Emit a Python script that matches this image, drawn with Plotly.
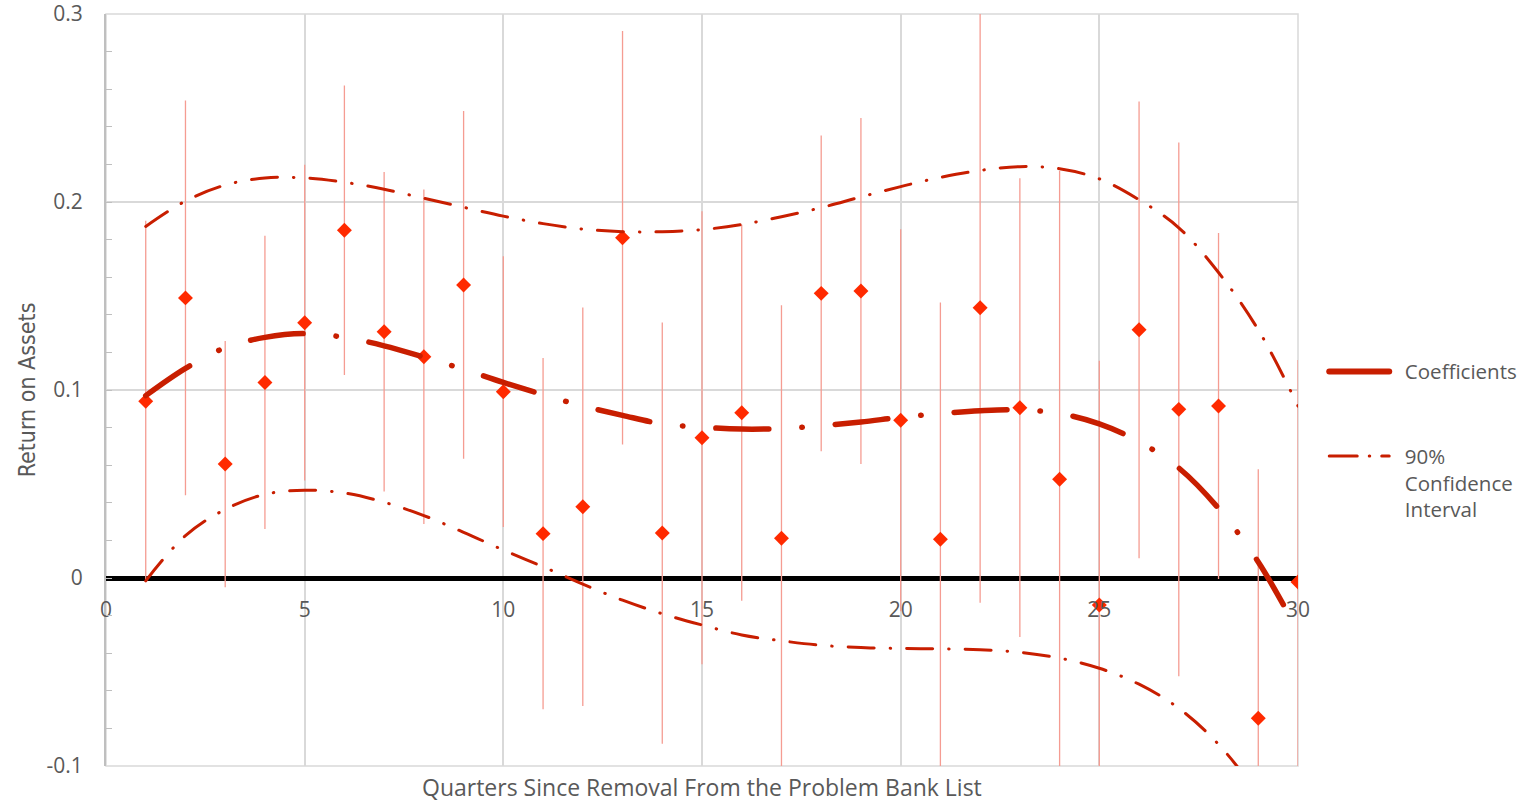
import plotly.graph_objects as go

# ---------------- data ----------------
quarters = list(range(1, 31))

# point estimates (diamonds)
roa_coef = [0.094, 0.149, 0.0606, 0.104, 0.1358, 0.185, 0.131, 0.1177, 0.1559, 0.0991,
            0.0236, 0.0379, 0.181, 0.0239, 0.0746, 0.0879, 0.0211, 0.1514, 0.1527, 0.0839,
            0.0206, 0.1438, 0.0906, 0.0525, -0.0144, 0.132, 0.0897, 0.0915, -0.0746, -0.0021]

# half-width of the 90% interval of each point (vertical bars)
roa_err = [0.096, 0.105, 0.0655, 0.078, 0.084, 0.077, 0.085, 0.089, 0.0925, 0.072,
           0.0934, 0.106, 0.110, 0.112, 0.1205, 0.100, 0.124, 0.084, 0.092, 0.1016,
           0.126, 0.157, 0.122, 0.164, 0.130, 0.1215, 0.142, 0.092, 0.1324, 0.118]

# polynomial trend of the coefficients
trend_coef = [0.097, 0.1115, 0.1225, 0.128, 0.130, 0.128, 0.1235, 0.1175, 0.111, 0.104,
              0.0975, 0.0915, 0.0865, 0.082, 0.0802, 0.0792, 0.0795, 0.081, 0.083, 0.0855,
              0.0875, 0.089, 0.0895, 0.0875, 0.082, 0.0725, 0.0585, 0.037, 0.0085, -0.0286]

# trend of the upper and lower 90% confidence bounds
trend_upper = [0.187, 0.2005, 0.209, 0.2128, 0.2128, 0.2105, 0.2068, 0.202, 0.1972, 0.1925,
               0.1885, 0.1856, 0.1842, 0.1842, 0.1853, 0.188, 0.1922, 0.197, 0.2027, 0.2082,
               0.2131, 0.2168, 0.2188, 0.2177, 0.2123, 0.2012, 0.1863, 0.1625, 0.132, 0.0915]
trend_lower = [-0.0015, 0.0225, 0.0365, 0.0445, 0.0467, 0.0452, 0.0403, 0.0332, 0.0243, 0.0149,
               0.006, -0.0033, -0.0118, -0.019, -0.025, -0.0303, -0.0334, -0.0358, -0.037, -0.0375,
               -0.0377, -0.0382, -0.0395, -0.0426, -0.048, -0.0565, -0.0693, -0.0885, -0.116, -0.155]

y_tick_vals = [-0.1, 0, 0.1, 0.2, 0.3]
y_tick_text = ["-0.1", "0", "0.1", "0.2", "0.3"]
x_tick_vals = [0, 5, 10, 15, 20, 25, 30]

# ---------------- styles ----------------
TREND_RED = "#C81E00"
POINT_RED = "#FF2A00"
BAR_RED = "#F59C92"
GRID = "#D9D9D9"
TEXT = "#595959"
FONT = "Open Sans, sans-serif"
PAD = "\u00a0\u00a0"

fig = go.Figure()

# points with their interval bars
fig.add_trace(go.Scatter(
    x=quarters, y=roa_coef, mode="markers",
    marker=dict(symbol="diamond", size=11.5, color=POINT_RED),
    error_y=dict(type="data", array=roa_err, visible=True,
                 color=BAR_RED, thickness=1.3, width=0),
    showlegend=False,
))

# trend lines
fig.add_trace(go.Scatter(
    x=quarters, y=trend_upper, mode="lines",
    line=dict(color=TREND_RED, width=3, dash="26px,16px,0.5px,16px", shape="spline", smoothing=1),
    showlegend=False,
))
fig.add_trace(go.Scatter(
    x=quarters, y=trend_lower, mode="lines",
    line=dict(color=TREND_RED, width=3, dash="26px,16px,0.5px,16px", shape="spline", smoothing=1),
    showlegend=False,
))
fig.add_trace(go.Scatter(
    x=quarters, y=trend_coef, mode="lines",
    line=dict(color=TREND_RED, width=5.5, dash="53px,33px,0.5px,33px", shape="spline", smoothing=1),
    showlegend=False,
))

# legend entries
fig.add_trace(go.Scatter(
    x=[None], y=[None], mode="lines", name=PAD + "Coefficients", legendgroup="a",
    line=dict(color=TREND_RED, width=6),
))
fig.add_trace(go.Scatter(
    x=[None], y=[None], mode="lines",
    name=PAD + "90%<br>" + PAD + "Confidence<br>" + PAD + "Interval", legendgroup="b",
    line=dict(color=TREND_RED, width=3, dash="28px,12px,0.5px,12px"),
))

fig.update_layout(
    width=1528, height=802,
    margin=dict(l=106, r=230, t=14, b=36, autoexpand=False),
    paper_bgcolor="white", plot_bgcolor="white",
    font=dict(family=FONT, color=TEXT, size=20),
    legend=dict(
        x=1.022, y=0.551, xanchor="left", yanchor="top",
        font=dict(family=FONT, size=20.5, color=TEXT),
        itemwidth=60, valign="top", tracegroupgap=55,
        traceorder="grouped", bgcolor="rgba(0,0,0,0)",
    ),
    xaxis=dict(
        range=[0, 30], tickvals=x_tick_vals, showgrid=True, gridcolor=GRID, gridwidth=1.5,
        zeroline=False, showline=False, ticks="", automargin=False,
        anchor="free", position=0.25, ticklabelstandoff=17, ticklabeloverflow="allow",
        tickfont=dict(family=FONT, size=21, color=TEXT),
    ),
    yaxis=dict(
        range=[-0.1, 0.3], tickvals=y_tick_vals, ticktext=y_tick_text,
        showgrid=True, gridcolor=GRID, gridwidth=1.5, automargin=False,
        zeroline=True, zerolinecolor="black", zerolinewidth=5,
        showline=True, linecolor="#BFBFBF", linewidth=2,
        ticks="inside", ticklen=6, tickcolor="#BFBFBF",
        minor=dict(dtick=0.02, ticks="inside", ticklen=6, tickcolor="#BFBFBF", showgrid=False),
        ticklabelstandoff=17, ticklabeloverflow="allow",
        tickfont=dict(family=FONT, size=21, color=TEXT),
    ),
    shapes=[
        dict(type="rect", xref="paper", yref="paper", x0=0, x1=1, y0=0, y1=1,
             line=dict(color=GRID, width=1.5), layer="below"),
    ],
    annotations=[
        dict(text="Quarters Since Removal From the Problem Bank List", xref="paper", yref="paper",
             x=0.5, y=-0.028, xanchor="center", yanchor="middle", showarrow=False,
             font=dict(family=FONT, size=23, color=TEXT)),
        dict(text="Return on Assets", xref="paper", yref="paper", textangle=-90,
             x=-0.066, y=0.5, xanchor="center", yanchor="middle", showarrow=False,
             font=dict(family="Liberation Sans Narrow, DejaVu Sans Condensed, sans-serif", size=23, color=TEXT)),
    ],
)

post = ("var s=document.createElement('style');"
        "s.textContent='body{margin:0;} .js-line{stroke-linecap:round;}';"
        "document.head.appendChild(s);")
fig.write_html("out.html", post_script=post, config={"displayModeBar": False})
